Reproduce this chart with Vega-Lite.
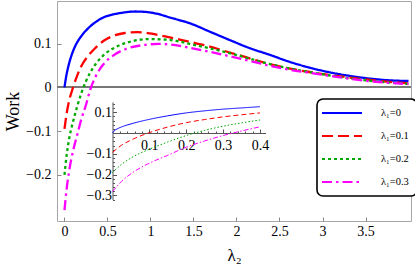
{
  "$schema": "https://vega.github.io/schema/vega-lite/v6.json",
  "width": 354,
  "height": 220,
  "autosize": {"type": "none"},
  "padding": {"left": 57, "top": 1, "right": 4, "bottom": 47},
  "background": "white",
  "config": {
    "view": {"stroke": "#a6a6a6", "strokeWidth": 1},
    "font": "Liberation Serif",
    "axis": {
      "grid": false,
      "domain": false,
      "labelFont": "Liberation Serif",
      "labelFontSize": 14,
      "labelColor": "black",
      "titleFont": "Liberation Serif",
      "titleFontWeight": "normal",
      "titleColor": "black",
      "tickColor": "#888888",
      "labelOverlap": false
    },
    "legend": {"strokeWidth": 1.6}
  },
  "datasets": {
    "main": [
      {"s": "λ₁=0", "x": 0, "y": 0}, {"s": "λ₁=0", "x": 0.01, "y": 0.013}, {"s": "λ₁=0", "x": 0.02, "y": 0.025}, {"s": "λ₁=0", "x": 0.044, "y": 0.047}, {"s": "λ₁=0", "x": 0.08, "y": 0.072}, {"s": "λ₁=0", "x": 0.122, "y": 0.093}, {"s": "λ₁=0", "x": 0.2, "y": 0.118}, {"s": "λ₁=0", "x": 0.277, "y": 0.135}, {"s": "λ₁=0", "x": 0.37, "y": 0.15}, {"s": "λ₁=0", "x": 0.47, "y": 0.161}, {"s": "λ₁=0", "x": 0.58, "y": 0.167}, {"s": "λ₁=0", "x": 0.665, "y": 0.17}, {"s": "λ₁=0", "x": 0.82, "y": 0.173}, {"s": "λ₁=0", "x": 0.95, "y": 0.172}, {"s": "λ₁=0", "x": 1.05, "y": 0.169}, {"s": "λ₁=0", "x": 1.25, "y": 0.158}, {"s": "λ₁=0", "x": 1.46, "y": 0.146}, {"s": "λ₁=0", "x": 1.69, "y": 0.127}, {"s": "λ₁=0", "x": 1.92, "y": 0.108}, {"s": "λ₁=0", "x": 2.16, "y": 0.089}, {"s": "λ₁=0", "x": 2.39, "y": 0.074}, {"s": "λ₁=0", "x": 2.62, "y": 0.058}, {"s": "λ₁=0", "x": 2.85, "y": 0.045}, {"s": "λ₁=0", "x": 3.09, "y": 0.034}, {"s": "λ₁=0", "x": 3.32, "y": 0.026}, {"s": "λ₁=0", "x": 3.55, "y": 0.02}, {"s": "λ₁=0", "x": 3.78, "y": 0.016}, {"s": "λ₁=0", "x": 4.0, "y": 0.0144},
      {"s": "λ₁=0.1", "x": 0, "y": -0.095}, {"s": "λ₁=0.1", "x": 0.025, "y": -0.06}, {"s": "λ₁=0.1", "x": 0.05, "y": -0.034}, {"s": "λ₁=0.1", "x": 0.1, "y": 0.0}, {"s": "λ₁=0.1", "x": 0.15, "y": 0.028}, {"s": "λ₁=0.1", "x": 0.2, "y": 0.05}, {"s": "λ₁=0.1", "x": 0.26, "y": 0.068}, {"s": "λ₁=0.1", "x": 0.35, "y": 0.088}, {"s": "λ₁=0.1", "x": 0.47, "y": 0.108}, {"s": "λ₁=0.1", "x": 0.59, "y": 0.119}, {"s": "λ₁=0.1", "x": 0.7, "y": 0.124}, {"s": "λ₁=0.1", "x": 0.85, "y": 0.126}, {"s": "λ₁=0.1", "x": 0.99, "y": 0.123}, {"s": "λ₁=0.1", "x": 1.17, "y": 0.116}, {"s": "λ₁=0.1", "x": 1.34, "y": 0.109}, {"s": "λ₁=0.1", "x": 1.54, "y": 0.1}, {"s": "λ₁=0.1", "x": 1.69, "y": 0.093}, {"s": "λ₁=0.1", "x": 1.86, "y": 0.083}, {"s": "λ₁=0.1", "x": 2.09, "y": 0.07}, {"s": "λ₁=0.1", "x": 2.33, "y": 0.056}, {"s": "λ₁=0.1", "x": 2.56, "y": 0.045}, {"s": "λ₁=0.1", "x": 2.85, "y": 0.035}, {"s": "λ₁=0.1", "x": 3.09, "y": 0.028}, {"s": "λ₁=0.1", "x": 3.55, "y": 0.017}, {"s": "λ₁=0.1", "x": 4.0, "y": 0.009},
      {"s": "λ₁=0.2", "x": 0, "y": -0.2}, {"s": "λ₁=0.2", "x": 0.025, "y": -0.155}, {"s": "λ₁=0.2", "x": 0.05, "y": -0.122}, {"s": "λ₁=0.2", "x": 0.1, "y": -0.078}, {"s": "λ₁=0.2", "x": 0.15, "y": -0.042}, {"s": "λ₁=0.2", "x": 0.2, "y": -0.011}, {"s": "λ₁=0.2", "x": 0.25, "y": 0.014}, {"s": "λ₁=0.2", "x": 0.3, "y": 0.034}, {"s": "λ₁=0.2", "x": 0.374, "y": 0.056}, {"s": "λ₁=0.2", "x": 0.47, "y": 0.076}, {"s": "λ₁=0.2", "x": 0.607, "y": 0.093}, {"s": "λ₁=0.2", "x": 0.78, "y": 0.105}, {"s": "λ₁=0.2", "x": 0.975, "y": 0.11}, {"s": "λ₁=0.2", "x": 1.17, "y": 0.109}, {"s": "λ₁=0.2", "x": 1.3, "y": 0.106}, {"s": "λ₁=0.2", "x": 1.46, "y": 0.099}, {"s": "λ₁=0.2", "x": 1.69, "y": 0.089}, {"s": "λ₁=0.2", "x": 1.92, "y": 0.078}, {"s": "λ₁=0.2", "x": 2.16, "y": 0.065}, {"s": "λ₁=0.2", "x": 2.39, "y": 0.053}, {"s": "λ₁=0.2", "x": 2.62, "y": 0.043}, {"s": "λ₁=0.2", "x": 2.85, "y": 0.035}, {"s": "λ₁=0.2", "x": 3.09, "y": 0.027}, {"s": "λ₁=0.2", "x": 3.55, "y": 0.015}, {"s": "λ₁=0.2", "x": 4.0, "y": 0.008},
      {"s": "λ₁=0.3", "x": 0, "y": -0.28}, {"s": "λ₁=0.3", "x": 0.025, "y": -0.232}, {"s": "λ₁=0.3", "x": 0.05, "y": -0.196}, {"s": "λ₁=0.3", "x": 0.1, "y": -0.145}, {"s": "λ₁=0.3", "x": 0.15, "y": -0.107}, {"s": "λ₁=0.3", "x": 0.2, "y": -0.07}, {"s": "λ₁=0.3", "x": 0.25, "y": -0.04}, {"s": "λ₁=0.3", "x": 0.3, "y": -0.005}, {"s": "λ₁=0.3", "x": 0.355, "y": 0.022}, {"s": "λ₁=0.3", "x": 0.45, "y": 0.052}, {"s": "λ₁=0.3", "x": 0.57, "y": 0.073}, {"s": "λ₁=0.3", "x": 0.72, "y": 0.088}, {"s": "λ₁=0.3", "x": 0.9, "y": 0.096}, {"s": "λ₁=0.3", "x": 1.09, "y": 0.099}, {"s": "λ₁=0.3", "x": 1.27, "y": 0.097}, {"s": "λ₁=0.3", "x": 1.46, "y": 0.09}, {"s": "λ₁=0.3", "x": 1.69, "y": 0.081}, {"s": "λ₁=0.3", "x": 1.92, "y": 0.071}, {"s": "λ₁=0.3", "x": 2.16, "y": 0.06}, {"s": "λ₁=0.3", "x": 2.39, "y": 0.049}, {"s": "λ₁=0.3", "x": 2.62, "y": 0.04}, {"s": "λ₁=0.3", "x": 2.85, "y": 0.033}, {"s": "λ₁=0.3", "x": 3.09, "y": 0.026}, {"s": "λ₁=0.3", "x": 3.55, "y": 0.014}, {"s": "λ₁=0.3", "x": 4.0, "y": 0.0075}
    ],
    "inset": [
      {"s": "λ₁=0", "x": 0, "y": 0}, {"s": "λ₁=0", "x": 0.005, "y": 0.011}, {"s": "λ₁=0", "x": 0.015, "y": 0.022}, {"s": "λ₁=0", "x": 0.03, "y": 0.033}, {"s": "λ₁=0", "x": 0.05, "y": 0.044}, {"s": "λ₁=0", "x": 0.1, "y": 0.066}, {"s": "λ₁=0", "x": 0.15, "y": 0.083}, {"s": "λ₁=0", "x": 0.2, "y": 0.097}, {"s": "λ₁=0", "x": 0.25, "y": 0.107}, {"s": "λ₁=0", "x": 0.3, "y": 0.115}, {"s": "λ₁=0", "x": 0.35, "y": 0.121}, {"s": "λ₁=0", "x": 0.4, "y": 0.127},
      {"s": "λ₁=0.1", "x": 0, "y": -0.093}, {"s": "λ₁=0.1", "x": 0.025, "y": -0.058}, {"s": "λ₁=0.1", "x": 0.05, "y": -0.034}, {"s": "λ₁=0.1", "x": 0.1, "y": 0.002}, {"s": "λ₁=0.1", "x": 0.15, "y": 0.029}, {"s": "λ₁=0.1", "x": 0.2, "y": 0.05}, {"s": "λ₁=0.1", "x": 0.25, "y": 0.065}, {"s": "λ₁=0.1", "x": 0.3, "y": 0.078}, {"s": "λ₁=0.1", "x": 0.35, "y": 0.088}, {"s": "λ₁=0.1", "x": 0.4, "y": 0.097},
      {"s": "λ₁=0.2", "x": 0, "y": -0.19}, {"s": "λ₁=0.2", "x": 0.025, "y": -0.15}, {"s": "λ₁=0.2", "x": 0.05, "y": -0.12}, {"s": "λ₁=0.2", "x": 0.1, "y": -0.078}, {"s": "λ₁=0.2", "x": 0.15, "y": -0.043}, {"s": "λ₁=0.2", "x": 0.2, "y": -0.012}, {"s": "λ₁=0.2", "x": 0.25, "y": 0.013}, {"s": "λ₁=0.2", "x": 0.3, "y": 0.033}, {"s": "λ₁=0.2", "x": 0.35, "y": 0.049}, {"s": "λ₁=0.2", "x": 0.4, "y": 0.063},
      {"s": "λ₁=0.3", "x": 0, "y": -0.282}, {"s": "λ₁=0.3", "x": 0.025, "y": -0.232}, {"s": "λ₁=0.3", "x": 0.05, "y": -0.196}, {"s": "λ₁=0.3", "x": 0.1, "y": -0.145}, {"s": "λ₁=0.3", "x": 0.15, "y": -0.107}, {"s": "λ₁=0.3", "x": 0.2, "y": -0.068}, {"s": "λ₁=0.3", "x": 0.25, "y": -0.038}, {"s": "λ₁=0.3", "x": 0.3, "y": -0.012}, {"s": "λ₁=0.3", "x": 0.35, "y": 0.01}, {"s": "λ₁=0.3", "x": 0.4, "y": 0.03}
    ]
  },
  "resolve": {
    "scale": {"x": "independent", "y": "independent", "color": "independent", "strokeDash": "independent"},
    "axis": {"x": "independent", "y": "independent"},
    "legend": {"color": "independent", "strokeDash": "independent"}
  },
  "layer": [
    {
      "data": {"name": "main"},
      "layer": [
        {
          "mark": {"type": "rule", "color": "#777777", "strokeWidth": 1},
          "encoding": {
            "y": {"datum": 0, "type": "quantitative", "scale": {"domain": [-0.305, 0.197], "nice": false, "zero": false}}
          }
        },
        {
          "mark": {"type": "line", "strokeWidth": 2.3, "interpolate": "monotone"},
          "encoding": {
            "x": {
              "field": "x", "type": "quantitative",
              "scale": {"domain": [-0.087, 4.029], "nice": false, "zero": false},
              "axis": {"values": [0, 0.5, 1, 1.5, 2, 2.5, 3, 3.5], "format": "~g", "tickSize": -4, "labelPadding": 7, "title": "λ₂", "titleFontSize": 17, "titlePadding": 9}
            },
            "y": {
              "field": "y", "type": "quantitative",
              "scale": {"domain": [-0.305, 0.197], "nice": false, "zero": false},
              "axis": {"values": [-0.2, -0.1, 0, 0.1], "format": "~g", "tickSize": -4, "labelPadding": 10, "title": "Work", "titleFontSize": 18, "titlePadding": 3}
            },
            "color": {
              "field": "s", "type": "nominal",
              "scale": {"domain": ["λ₁=0", "λ₁=0.1", "λ₁=0.2", "λ₁=0.3"], "range": ["#0000ff", "#ff0000", "#00aa00", "#ff00ff"]},
              "legend": {"title": null, "orient": "none", "legendX": 260, "legendY": 98, "strokeColor": "black", "fillColor": "white", "cornerRadius": 6, "padding": 8, "symbolType": "M-4,0H4", "symbolSize": 100, "symbolStrokeWidth": 2, "symbolOffset": 11, "labelOffset": 33, "rowPadding": 11, "labelFont": "Liberation Serif", "labelFontSize": 10.5, "labelColor": "black", "labelLimit": 0}
            },
            "strokeDash": {
              "field": "s", "type": "nominal",
              "scale": {"domain": ["λ₁=0", "λ₁=0.1", "λ₁=0.2", "λ₁=0.3"], "range": [[1, 0], [11, 5], [3, 3], [10, 4, 2.5, 4]]},
              "legend": {"title": null, "orient": "none", "legendX": 260, "legendY": 98, "strokeColor": "black", "fillColor": "white", "cornerRadius": 6, "padding": 8, "symbolType": "M-4,0H4", "symbolSize": 100, "symbolStrokeWidth": 2, "symbolOffset": 11, "labelOffset": 33, "rowPadding": 11, "labelFont": "Liberation Serif", "labelFontSize": 10.5, "labelColor": "black", "labelLimit": 0}
            }
          }
        }
      ]
    },
    {
      "data": {"name": "inset"},
      "mark": {"type": "line", "strokeWidth": 1, "interpolate": "monotone"},
      "encoding": {
        "x": {
          "field": "x", "type": "quantitative",
          "scale": {"domain": [0, 0.415], "range": [55.5, 208.5], "nice": false, "zero": false},
          "axis": {"orient": "bottom", "offset": -88, "title": null, "domain": true, "domainColor": "#555555",
            "values": [0.02, 0.04, 0.06, 0.08, 0.1, 0.12, 0.14, 0.16, 0.18, 0.2, 0.22, 0.24, 0.26, 0.28, 0.3, 0.32, 0.34, 0.36, 0.38, 0.4],
            "labelExpr": "abs(datum.value*10 - round(datum.value*10)) < 0.01 ? format(datum.value, '.1f') : ''",
            "tickColor": "#555555",
            "tickSize": {"condition": {"test": "abs(datum.value*10 - round(datum.value*10)) < 0.01", "value": -4}, "value": -2},
            "labelPadding": 9}
        },
        "y": {
          "field": "y", "type": "quantitative",
          "scale": {"domain": [-0.32, 0.15], "range": [198.5, 100.9], "nice": false, "zero": false},
          "axis": {"orient": "left", "offset": -55.5, "title": null, "domain": true, "domainColor": "#555555",
            "values": [-0.32, -0.3, -0.28, -0.26, -0.24, -0.22, -0.2, -0.18, -0.16, -0.14, -0.12, -0.1, -0.08, -0.06, -0.04, -0.02, 0.02, 0.04, 0.06, 0.08, 0.1, 0.12, 0.14],
            "labelExpr": "abs(datum.value*10 - round(datum.value*10)) < 0.01 ? format(datum.value, '.1f') : ''",
            "tickColor": "#555555",
            "tickSize": {"condition": {"test": "abs(datum.value*10 - round(datum.value*10)) < 0.01", "value": -4}, "value": -2},
            "labelPadding": 5}
        },
        "color": {
          "field": "s", "type": "nominal",
          "scale": {"domain": ["λ₁=0", "λ₁=0.1", "λ₁=0.2", "λ₁=0.3"], "range": ["#0000ff", "#ff0000", "#00aa00", "#ff00ff"]},
          "legend": null
        },
        "strokeDash": {
          "field": "s", "type": "nominal",
          "scale": {"domain": ["λ₁=0", "λ₁=0.1", "λ₁=0.2", "λ₁=0.3"], "range": [[1, 0], [5, 3], [1.5, 2], [5, 2, 1.5, 2]]},
          "legend": null
        }
      }
    }
  ]
}
